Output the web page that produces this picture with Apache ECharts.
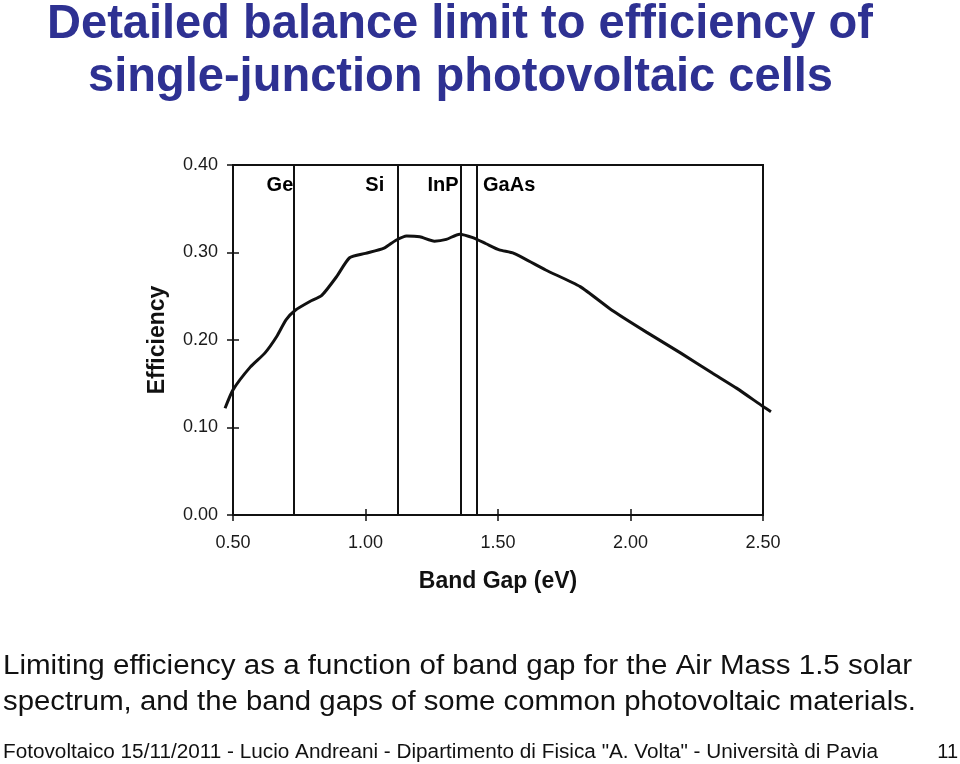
<!DOCTYPE html>
<html>
<head>
<meta charset="utf-8">
<script src="https://cdn.jsdelivr.net/npm/echarts@6/dist/echarts.min.js"></script>
<style>
html,body{margin:0;padding:0;background:#fff;}
#chart{width:960px;height:764px;}
</style>
</head>
<body>
<div id="chart"></div>
<script>
// ---- data ----
var bandGap = [0.47,0.50,0.565,0.62,0.665,0.70,0.735,0.79,0.835,0.89,0.94,1.00,1.07,1.115,1.155,1.205,1.26,1.305,1.355,1.405,1.455,1.505,1.56,1.68,1.81,1.93,2.06,2.19,2.31,2.40,2.50,2.53];
var efficiency = [0.122,0.143,0.169,0.185,0.204,0.223,0.234,0.244,0.251,0.272,0.294,0.299,0.305,0.314,0.319,0.318,0.313,0.315,0.321,0.317,0.310,0.303,0.299,0.280,0.261,0.234,0.209,0.185,0.162,0.145,0.124,0.118];
var materialNames = ['Ge','Si','InP','GaAs'];
var materialGaps = [0.735,1.116,1.359,1.417];
var xTicks = [0.50,1.00,1.50,2.00,2.50];
var yTicks = [0.00,0.10,0.20,0.30,0.40];

var titleLines = ['Detailed balance limit to efficiency of','single-junction photovoltaic cells'];
var captionLines = ['Limiting efficiency as a function of band gap for the Air Mass 1.5 solar','spectrum, and the band gaps of some common photovoltaic materials.'];
var footerText = 'Fotovoltaico 15/11/2011 - Lucio Andreani - Dipartimento di Fisica "A. Volta" - Universit\u00e0 di Pavia';
var pageNumber = '11';

// ---- build ----
var curve = bandGap.map(function(x,i){return [x, efficiency[i]];});
var labelY = 0.377;
var labelPos = ['left','left','left','right'];
var labelDist = [2,12,2,7];
var materialPts = materialGaps.map(function(g,i){
  return {value:[g,labelY], name:materialNames[i], label:{position:labelPos[i], distance:labelDist[i]}};
});

// plot-area layout (pixels)
var gLeft = 233, gRight = 197, gTop = 165, gBottom = 249;
var xMin = xTicks[0], xMax = xTicks[xTicks.length-1];
var pxPerUnit = (960 - gLeft - gRight) / (xMax - xMin);
var pad = 0.05; // extra range so the curve may run past the frame
var gLeft2 = gLeft - pad*pxPerUnit, gRight2 = gRight - pad*pxPerUnit;

// text width fitting
var mctx = document.createElement('canvas').getContext('2d');
function fitScale(text, font, target){ mctx.font = font; return target / mctx.measureText(text).width; }
var titleFont = 'bold 48px "Liberation Sans", Arial, sans-serif';
var capFont = '27px "Liberation Sans", Arial, sans-serif';
var footFont = '20px "Liberation Sans", Arial, sans-serif';
function txt(x, y, text, font, fill, align, target){
  var s = target ? fitScale(text, font, target) : 1;
  return {type:'text', x:x, y:y, scaleX:s, silent:true,
    style:{text:text, font:font, fill:fill, textAlign:align, textVerticalAlign:'middle'}};
}

var chart = echarts.init(document.getElementById('chart'), null, {renderer:'canvas'});
var fmt = function(v){return v.toFixed(2);};
var tickFont = {fontFamily:'Liberation Sans, Arial, sans-serif', fontSize:18, color:'#1a1a1a'};
var nameFont = {fontFamily:'Liberation Sans, Arial, sans-serif', fontWeight:'bold', fontSize:23, color:'#111'};
var titleColor = '#2e3192';
var hidden = {axisLine:{show:false}, axisLabel:{show:false}, axisTick:{show:false}, splitLine:{show:false}};
var option = {
  animation:false,
  backgroundColor:'#fff',
  grid:[
    {left:gLeft, right:gRight, top:gTop, bottom:gBottom, show:true, borderColor:'#111', borderWidth:2, backgroundColor:'transparent'},
    {left:gLeft2, right:gRight2, top:gTop, bottom:gBottom, show:false}
  ],
  xAxis:[{
    gridIndex:0, type:'value', min:xMin, max:xMax, interval:0.5,
    axisLine:{lineStyle:{color:'#111', width:2}},
    axisTick:{show:true, length:6, lineStyle:{color:'#111', width:1.5}},
    axisLabel:Object.assign({formatter:fmt, margin:19}, tickFont),
    splitLine:{show:false},
    name:'Band Gap (eV)', nameLocation:'middle', nameGap:55, nameTextStyle:nameFont
  },{
    gridIndex:0, type:'value', min:xMin, max:xMax, interval:0.5, position:'bottom',
    axisLine:{show:false}, axisLabel:{show:false}, splitLine:{show:false},
    axisTick:{show:true, inside:true, length:6, lineStyle:{color:'#111', width:1.5}}
  }, Object.assign({gridIndex:1, type:'value', min:xMin-pad, max:xMax+pad}, hidden)],
  yAxis:[{
    gridIndex:0, type:'value', min:yTicks[0], max:yTicks[yTicks.length-1], interval:0.1,
    axisLine:{show:true, lineStyle:{color:'#111', width:2}},
    axisTick:{show:true, length:6, lineStyle:{color:'#111', width:1.5}},
    axisLabel:Object.assign({formatter:fmt, margin:15}, tickFont),
    splitLine:{show:false},
    name:'Efficiency', nameLocation:'middle', nameGap:64, nameTextStyle:nameFont
  },{
    gridIndex:0, type:'value', min:yTicks[0], max:yTicks[yTicks.length-1], interval:0.1, position:'left',
    axisLine:{show:false}, axisLabel:{show:false}, splitLine:{show:false},
    axisTick:{show:true, inside:true, length:6, lineStyle:{color:'#111', width:1.5}}
  }, Object.assign({gridIndex:1, type:'value', min:yTicks[0], max:yTicks[yTicks.length-1]}, hidden)],
  series:[{
    type:'line', xAxisIndex:2, yAxisIndex:2, data:curve, showSymbol:false, smooth:0.2, clip:false, silent:true,
    lineStyle:{color:'#111', width:3}
  },{
    type:'scatter', xAxisIndex:0, yAxisIndex:0, data:materialPts, symbolSize:0, silent:true, clip:false,
    itemStyle:{opacity:1},
    label:{show:true, formatter:function(p){return p.name;}, fontFamily:'Liberation Sans, Arial, sans-serif', fontWeight:'bold', fontSize:20, color:'#000'},
    markLine:{
      silent:true, symbol:['none','none'], label:{show:false},
      lineStyle:{color:'#111', width:2, type:'solid', opacity:1},
      data: materialGaps.map(function(g){return {xAxis:g};})
    }
  }],
  graphic:[
    txt(460, 25, titleLines[0], titleFont, titleColor, 'center', 826),
    txt(460.5, 78, titleLines[1], titleFont, titleColor, 'center', 745),
    txt(3, 667, captionLines[0], capFont, '#111', 'left', 909),
    txt(3, 703, captionLines[1], capFont, '#111', 'left', 913),
    txt(3, 752, footerText, footFont, '#111', 'left', 875),
    txt(958, 752, pageNumber, footFont, '#111', 'right', 0)
  ]
};
chart.setOption(option);
</script>
</body>
</html>
